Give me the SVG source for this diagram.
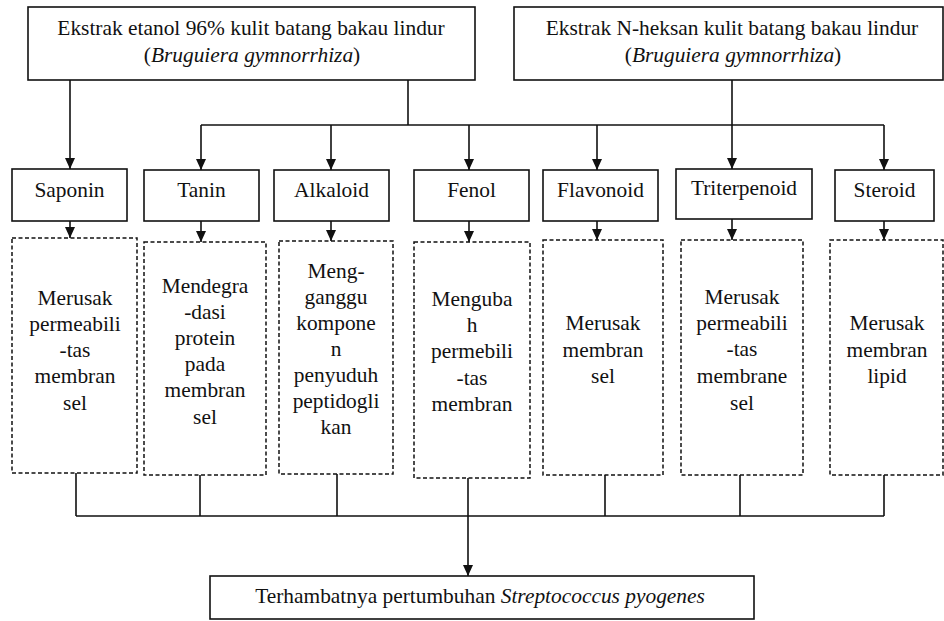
<svg xmlns="http://www.w3.org/2000/svg" width="944" height="621" viewBox="0 0 944 621">
<style>
.box{fill:#fff;stroke:#111;stroke-width:1.6}
.dbox{fill:#fff;stroke:#111;stroke-width:1.5;stroke-dasharray:4 2.5}
.t{font-family:'Liberation Serif','Times New Roman',Times,serif;font-size:21.4px;text-anchor:middle;fill:#111}
.i{font-style:italic}
.ln{stroke:#111;stroke-width:1.6;fill:none}
.ar{marker-end:url(#ah)}
</style>
<defs>
<marker id="ah" markerUnits="userSpaceOnUse" viewBox="0 0 11 10" markerWidth="11" markerHeight="10" refX="11" refY="5" orient="auto">
<path d="M0,0 L11,5 L0,10 z" fill="#111"/>
</marker>
</defs>
<rect width="944" height="621" fill="#fff"/>
<g id="connectors">
<path class="ln ar" d="M70,80 V169"/>
<path class="ln" d="M408,80 V125"/>
<path class="ln" d="M201,125 H884"/>
<path class="ln ar" d="M732,80 V169"/>
<path class="ln ar" d="M201,125 V170"/>
<path class="ln ar" d="M331,125 V170"/>
<path class="ln ar" d="M469,125 V170"/>
<path class="ln ar" d="M597,125 V170"/>
<path class="ln ar" d="M884,125 V170"/>
<path class="ln ar" d="M70,221 V238"/>
<path class="ln ar" d="M201,221 V242"/>
<path class="ln ar" d="M331,221 V241"/>
<path class="ln ar" d="M469,221 V242"/>
<path class="ln ar" d="M597,221 V240"/>
<path class="ln ar" d="M732,219 V240"/>
<path class="ln ar" d="M884,221 V240"/>
<path class="ln" d="M76,473 V516 M200,475 V516 M337,474 V516 M605,475 V516 M740,475 V516 M884,475 V516 M76,516 H884"/>
<path class="ln ar" d="M468,478 V576"/>
</g>
<g id="ekstrak-etanol">
<rect class="box" x="28" y="7" width="447" height="73"/>
<text class="t" x="251" y="35">Ekstrak etanol 96% kulit batang bakau lindur</text>
<text class="t" x="252" y="62">(<tspan class="i">Bruguiera gymnorrhiza</tspan>)</text>
</g>
<g id="ekstrak-nheksan">
<rect class="box" x="514" y="7" width="429" height="73"/>
<text class="t" x="732" y="35">Ekstrak N-heksan kulit batang bakau lindur</text>
<text class="t" x="733" y="62">(<tspan class="i">Bruguiera gymnorrhiza</tspan>)</text>
</g>
<g id="saponin">
<rect class="box" x="12" y="169" width="115" height="52"/>
<text class="t" x="69.5" y="197">Saponin</text>
</g>
<g id="tanin">
<rect class="box" x="144" y="170" width="115" height="51"/>
<text class="t" x="201.5" y="197">Tanin</text>
</g>
<g id="alkaloid">
<rect class="box" x="274" y="170" width="115" height="51"/>
<text class="t" x="331.5" y="197">Alkaloid</text>
</g>
<g id="fenol">
<rect class="box" x="414" y="170" width="115" height="51"/>
<text class="t" x="471.5" y="197">Fenol</text>
</g>
<g id="flavonoid">
<rect class="box" x="543" y="170" width="115" height="51"/>
<text class="t" x="600.5" y="197">Flavonoid</text>
</g>
<g id="triterpenoid">
<rect class="box" x="676" y="169" width="136" height="50"/>
<text class="t" x="744" y="195">Triterpenoid</text>
</g>
<g id="steroid">
<rect class="box" x="835" y="170" width="99" height="51"/>
<text class="t" x="884.5" y="197">Steroid</text>
</g>
<g id="efek-saponin">
<rect class="dbox" x="12" y="238" width="125" height="235"/>
<text class="t"><tspan x="75" y="305">Merusak</tspan><tspan x="75" y="331">permeabili</tspan><tspan x="75" y="357">-tas</tspan><tspan x="75" y="383">membran</tspan><tspan x="75" y="410">sel</tspan></text>
</g>
<g id="efek-tanin">
<rect class="dbox" x="144" y="242" width="122" height="233"/>
<text class="t"><tspan x="205" y="293">Mendegra</tspan><tspan x="205" y="319">-dasi</tspan><tspan x="205" y="345">protein</tspan><tspan x="205" y="371">pada</tspan><tspan x="205" y="397">membran</tspan><tspan x="205" y="424">sel</tspan></text>
</g>
<g id="efek-alkaloid">
<rect class="dbox" x="279" y="241" width="114" height="233"/>
<text class="t"><tspan x="336" y="278">Meng-</tspan><tspan x="336" y="304">ganggu</tspan><tspan x="336" y="330">kompone</tspan><tspan x="336" y="356">n</tspan><tspan x="336" y="382">penyuduh</tspan><tspan x="336" y="408">peptidogli</tspan><tspan x="336" y="434">kan</tspan></text>
</g>
<g id="efek-fenol">
<rect class="dbox" x="414" y="242" width="116" height="236"/>
<text class="t"><tspan x="472" y="306">Menguba</tspan><tspan x="472" y="332">h</tspan><tspan x="472" y="358">permebili</tspan><tspan x="472" y="385">-tas</tspan><tspan x="472" y="411">membran</tspan></text>
</g>
<g id="efek-flavonoid">
<rect class="dbox" x="543" y="240" width="120" height="235"/>
<text class="t"><tspan x="603" y="330">Merusak</tspan><tspan x="603" y="357">membran</tspan><tspan x="603" y="383">sel</tspan></text>
</g>
<g id="efek-triterpenoid">
<rect class="dbox" x="681" y="240" width="122" height="235"/>
<text class="t"><tspan x="742" y="304">Merusak</tspan><tspan x="742" y="330">permeabili</tspan><tspan x="742" y="356">-tas</tspan><tspan x="742" y="383">membrane</tspan><tspan x="742" y="410">sel</tspan></text>
</g>
<g id="efek-steroid">
<rect class="dbox" x="830" y="240" width="113" height="235"/>
<text class="t"><tspan x="887" y="330">Merusak</tspan><tspan x="887" y="357">membran</tspan><tspan x="887" y="383">lipid</tspan></text>
</g>
<g id="hasil">
<rect class="box" x="210" y="576" width="544" height="43"/>
<text class="t" x="480" y="603">Terhambatnya pertumbuhan <tspan class="i">Streptococcus pyogenes</tspan></text>
</g>
</svg>
